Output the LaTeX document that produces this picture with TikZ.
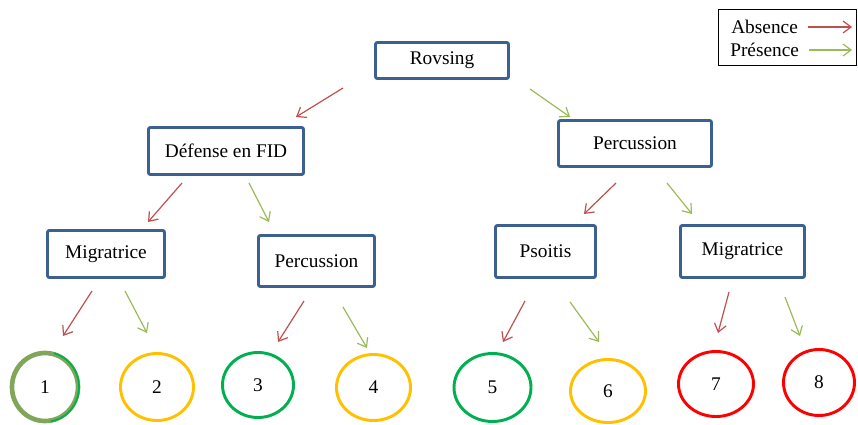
\documentclass[tikz,border=0pt]{standalone}
\usepackage{fontspec}
\setmainfont{Liberation Serif}
\usetikzlibrary{shapes.geometric, arrows.meta}

\definecolor{boxblue}{RGB}{60,96,145}
\definecolor{absred}{RGB}{192,80,77}
\definecolor{preGreen}{RGB}{155,187,89}
\definecolor{okgreen}{RGB}{0,176,80}
\definecolor{olive}{RGB}{128,166,89}
\definecolor{amber}{RGB}{255,192,0}
\definecolor{alarm}{RGB}{255,0,0}

\begin{document}
\begin{tikzpicture}[x=0.75pt, y=-0.75pt,
  every node/.style={font=\fontsize{14.5}{17}\selectfont},
  sign/.style={draw=boxblue, line width=2.2pt, rounded corners=1.5pt, fill=white, inner sep=0pt},
  issue/.style={ellipse, line width=2.2pt, inner sep=0pt},
  absent/.style={draw=absred, line width=0.9pt, -{Straight Barb[length=6pt, width=9pt]}},
  present/.style={draw=preGreen, line width=0.9pt, -{Straight Barb[length=6pt, width=9pt]}}]
  \useasboundingbox (0,0) rectangle (858,425);

  % boxes
  \node[sign, minimum width=99.75pt, minimum height=27pt] (rov) at (442,60.5) {Rovsing};
  \node[sign, minimum width=116.25pt, minimum height=35.25pt] (def) at (226,151) {Défense en FID};
  \node[sign, minimum width=114.75pt, minimum height=34.5pt] (perA) at (635,143.5) {Percussion};
  \node[sign, minimum width=87.75pt, minimum height=35.25pt] (migA) at (106,254) {Migratrice};
  \node[sign, minimum width=87pt, minimum height=38.25pt] (perB) at (316.5,261) {Percussion};
  \node[sign, minimum width=75pt, minimum height=39pt] (pso) at (545.5,251.5) {Psoitis};
  \node[sign, minimum width=93pt, minimum height=39pt] (migB) at (742.5,251.5) {Migratrice};

  % outcomes
  \node[issue, draw=olive, line width=3.5pt, minimum width=49.5pt, minimum height=51pt] (c1) at (45,387) {1};
  \draw[okgreen, line width=1.3pt] (c1.center) ++(-75:34 and 35) arc[start angle=-75, end angle=80, x radius=34, y radius=35];
  \node[issue, draw=amber, minimum width=54.75pt, minimum height=50.25pt] (c2) at (157,387) {2};
  \node[issue, draw=okgreen, minimum width=53.25pt, minimum height=48.75pt] (c3) at (258,385) {3};
  \node[issue, draw=amber, minimum width=55.5pt, minimum height=49.5pt] (c4) at (373.5,387.5) {4};
  \node[issue, draw=okgreen, minimum width=57.75pt, minimum height=51pt] (c5) at (492.5,387.5) {5};
  \node[issue, draw=amber, minimum width=56.25pt, minimum height=47.25pt] (c6) at (608,391) {6};
  \node[issue, draw=alarm, minimum width=56.25pt, minimum height=48.75pt] (c7) at (716,384) {7};
  \node[issue, draw=alarm, minimum width=53.25pt, minimum height=49.5pt] (c8) at (819,382.5) {8};

  % arrow ends
  \coordinate (rovA) at (343,88);   \coordinate (defIn) at (296,117);
  \coordinate (rovP) at (530,89);   \coordinate (perAIn) at (570,117);
  \coordinate (defA) at (182,183);  \coordinate (migAIn) at (148,222);
  \coordinate (defP) at (249,183);  \coordinate (perBIn) at (269,222);
  \coordinate (perAA) at (616,183); \coordinate (psoIn) at (584,214);
  \coordinate (perAP) at (667,183); \coordinate (migBIn) at (692,214);
  \coordinate (migAA) at (92,291);  \coordinate (c1In) at (63,336);
  \coordinate (migAP) at (125,291); \coordinate (c2In) at (147,333);
  \coordinate (perBA) at (304,301); \coordinate (c3In) at (278,342);
  \coordinate (perBP) at (343,307); \coordinate (c4In) at (367,348);
  \coordinate (psoA) at (525,301);  \coordinate (c5In) at (503,342);
  \coordinate (psoP) at (570,302);  \coordinate (c6In) at (599,342);
  \coordinate (migBA) at (729,292); \coordinate (c7In) at (718,333);
  \coordinate (migBP) at (785,297); \coordinate (c8In) at (800,336);

  \path
  (rovA) edge[absent] (defIn)
  (rovP) edge[present] (perAIn)
  (defA) edge[absent] (migAIn)
  (defP) edge[present] (perBIn)
  (perAA) edge[absent] (psoIn)
  (perAP) edge[present] (migBIn)
  (migAA) edge[absent] (c1In)
  (migAP) edge[present] (c2In)
  (perBA) edge[absent] (c3In)
  (perBP) edge[present] (c4In)
  (psoA) edge[absent] (c5In)
  (psoP) edge[present] (c6In)
  (migBA) edge[absent] (c7In)
  (migBP) edge[present] (c8In)
  ;

  % legend
  \node[draw, line width=1pt, inner sep=0pt, minimum width=103.5pt, minimum height=42pt] (key) at (787.5,37.5) {};
  \node[anchor=west, inner sep=0pt] (keyA) at (731,27) {Absence};
  \node[anchor=west, inner sep=0pt] (keyP) at (730,50) {Présence};
  \coordinate (keyAEnd) at (852,27);
  \coordinate (keyPEnd) at (852,50);
  \draw[absent] (keyA.east) ++(10,0) -- (keyAEnd);
  \draw[present] (keyP.east) ++(10,0) -- (keyPEnd);
\end{tikzpicture}
\end{document}
